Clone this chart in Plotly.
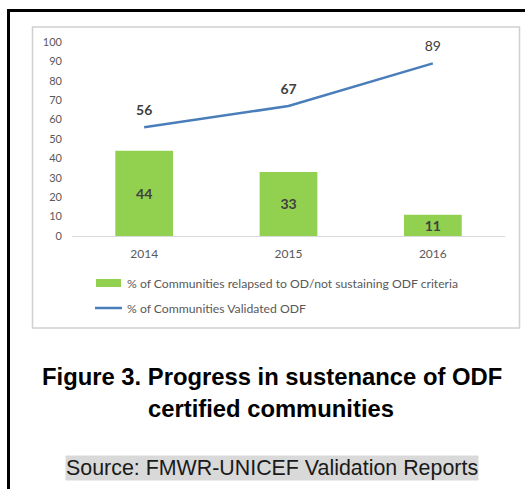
import plotly.graph_objects as go

years = ["2014", "2015", "2016"]
relapsed = [44, 33, 11]
validated = [56, 67, 89]
name_relapsed = "% of Communities relapsed to OD/not sustaining ODF criteria"
name_validated = "% of Communities Validated ODF"
y_ticks = [0, 10, 20, 30, 40, 50, 60, 70, 80, 90, 100]
title_lines = ["Figure 3. Progress in sustenance of ODF", "certified communities"]
source_text = "Source: FMWR-UNICEF Validation Reports"

W, H = 525, 489
L, R, T, B = 72, 505, 42, 236


def px(x):
    return (x - L) / (R - L)


def py(y):
    return (B - y) / (B - T)


BAR_C = "#92d050"
LINE_C = "#4a7ebb"
LABEL_C = "#404040"
AX_C = "#595959"
CHART_FONT = "Lato"

fig = go.Figure()
fig.add_trace(go.Bar(
    x=years, y=relapsed, name=name_relapsed, width=0.4,
    marker=dict(color=BAR_C, line=dict(width=0)),
    text=[f"<b>{v}</b>" for v in relapsed], textposition="inside", textangle=0,
    insidetextanchor="middle", constraintext="none",
    textfont=dict(family=CHART_FONT, size=14, color=LABEL_C),
    showlegend=False, hoverinfo="skip",
))
fig.add_trace(go.Scatter(
    x=years, y=validated, name=name_validated, mode="lines+markers+text",
    line=dict(color=LINE_C, width=2.5),
    marker=dict(size=12, opacity=0),
    text=[f"<b>{v}</b>" if i < 2 else str(v) for i, v in enumerate(validated)],
    textposition="top center",
    textfont=dict(family=CHART_FONT, size=14, color=LABEL_C),
    showlegend=False, hoverinfo="skip", cliponaxis=False,
))

shapes = [
    # outer page frame
    dict(type="line", xref="paper", yref="paper", x0=px(8.5), x1=px(530), y0=py(10.5), y1=py(10.5),
         line=dict(color="black", width=3)),
    dict(type="line", xref="paper", yref="paper", x0=px(8.5), x1=px(8.5), y0=py(9), y1=py(495),
         line=dict(color="black", width=3)),
    # chart box
    dict(type="rect", xref="paper", yref="paper", x0=px(32.5), x1=px(519.5), y0=py(27), y1=py(328),
         line=dict(color="#d0d0d0", width=1.5), fillcolor="rgba(0,0,0,0)", layer="below"),
    # legend swatches
    dict(type="rect", xref="paper", yref="paper", x0=px(96), x1=px(121), y0=py(279), y1=py(287),
         line=dict(width=0), fillcolor=BAR_C),
    dict(type="line", xref="paper", yref="paper", x0=px(95), x1=px(122), y0=py(308), y1=py(308),
         line=dict(color=LINE_C, width=2.5)),
]

annotations = [
    dict(xref="paper", yref="paper", x=px(125), y=py(283), text=name_relapsed, showarrow=False,
         xanchor="left", yanchor="middle", font=dict(family=CHART_FONT, size=12.2, color=AX_C)),
    dict(xref="paper", yref="paper", x=px(125), y=py(308), text=name_validated, showarrow=False,
         xanchor="left", yanchor="middle", font=dict(family=CHART_FONT, size=12.2, color=AX_C)),
    dict(xref="paper", yref="paper", x=px(272), y=py(376), text="<b>" + title_lines[0] + "</b>",
         showarrow=False, xanchor="center", yanchor="middle",
         font=dict(family="Liberation Sans", size=23.8, color="black")),
    dict(xref="paper", yref="paper", x=px(270.5), y=py(408), text="<b>" + title_lines[1] + "</b>",
         showarrow=False, xanchor="center", yanchor="middle",
         font=dict(family="Liberation Sans", size=23.8, color="black")),
    dict(xref="paper", yref="paper", x=px(271.5), y=py(467.5), text=source_text,
         showarrow=False, xanchor="center", yanchor="middle", bgcolor="#d9d9d9", borderpad=0,
         font=dict(family="Liberation Sans", size=21.4, color="#1a1a1a")),
]

fig.update_layout(
    width=W, height=H,
    margin=dict(l=L, r=W - R, t=T, b=H - B),
    paper_bgcolor="white", plot_bgcolor="white",
    showlegend=False,
    shapes=shapes, annotations=annotations,
    xaxis=dict(type="category", showgrid=False, showline=False, zeroline=False, ticks="",
               tickfont=dict(family=CHART_FONT, size=12, color=AX_C), ticklabelstandoff=9,
               fixedrange=True),
    yaxis=dict(range=[0, 100], tickvals=y_ticks, showgrid=False, showline=False,
               zeroline=True, zerolinecolor="#d9d9d9", zerolinewidth=1, ticks="",
               tickfont=dict(family=CHART_FONT, size=11, color=AX_C), ticklabelstandoff=9,
               fixedrange=True),
    bargap=0.6,
)

fig.write_html("out.html", config={"displayModeBar": False, "staticPlot": True},
               post_script="document.body.style.margin='0';document.body.style.overflow='hidden';")
